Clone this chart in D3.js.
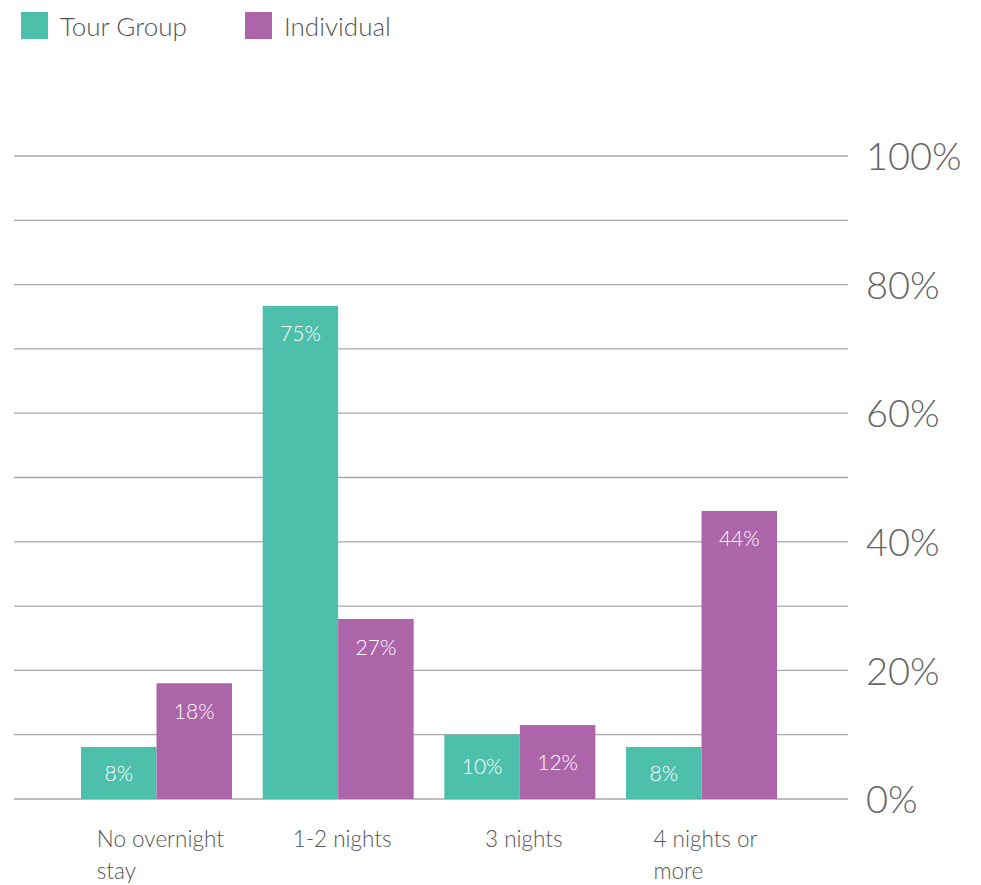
<!DOCTYPE html>
<html>
<head>
<meta charset="utf-8">
<script src="https://cdn.jsdelivr.net/npm/d3@7"></script>
<style>
  html, body { margin: 0; padding: 0; background: #fff; }
  svg { display: block; font-family: Lato, "Open Sans", sans-serif; }
</style>
</head>
<body>
<svg id="chart" width="981" height="885"></svg>
<script>
const categories = [["No overnight", "stay"], ["1-2 nights"], ["3 nights"], ["4 nights or", "more"]];
const seriesNames = ["Tour Group", "Individual"];
const tourGroup = [8.1, 76.7, 10, 8.1];
const individual = [18, 28, 11.5, 44.8];
const tourLabels = ["8%", "75%", "10%", "8%"];
const indivLabels = ["18%", "27%", "12%", "44%"];
const yTicks = [0, 10, 20, 30, 40, 50, 60, 70, 80, 90, 100];
const yTickLabels = ["0%", "", "20%", "", "40%", "", "60%", "", "80%", "", "100%"];
const colors = ["#4dc0ac", "#ad65a9"];

const svg = d3.select("#chart");

const y = d3.scaleLinear().domain([0, 100]).range([799, 156]);
const x0 = d3.scaleBand().domain(d3.range(categories.length)).range([0, 696]).paddingInner(0.169).paddingOuter(0);
const x1 = d3.scaleBand().domain([0, 1]).range([0, x0.bandwidth()]);
const plotLeft = 81;

// gridlines
const grid = svg.append("g");
grid.selectAll("line").data(yTicks).join("line")
  .attr("x1", 14).attr("x2", 848)
  .attr("y1", d => y(d)).attr("y2", d => y(d))
  .attr("stroke", "#a9a9a9").attr("stroke-width", 1.3);

// right axis labels
const yAxis = d3.axisRight(y).tickValues(yTicks).tickSize(0).tickPadding(0)
  .tickFormat((d, i) => yTickLabels[i]);
const ya = svg.append("g").attr("transform", "translate(866,0)").call(yAxis);
ya.select(".domain").remove();
ya.selectAll("text")
  .attr("font-family", "Lato, sans-serif").attr("font-weight", 300)
  .attr("font-size", 38).attr("fill", "#666").attr("dy", "0.36em");

// bars
const data = categories.map((c, i) => ({ i, vals: [tourGroup[i], individual[i]], labels: [tourLabels[i], indivLabels[i]] }));
const g = svg.append("g").attr("transform", `translate(${plotLeft},0)`);
const groups = g.selectAll("g.grp").data(data).join("g").attr("class", "grp")
  .attr("transform", d => `translate(${x0(d.i)},0)`);
groups.selectAll("rect").data(d => d.vals.map((v, k) => ({ v, k }))).join("rect")
  .attr("x", d => x1(d.k)).attr("width", x1.bandwidth())
  .attr("y", d => y(d.v)).attr("height", d => y(0) - y(d.v))
  .attr("fill", d => colors[d.k]);
groups.selectAll("text.val").data(d => d.vals.map((v, k) => ({ v, k, t: d.labels[k] }))).join("text")
  .attr("class", "val")
  .attr("x", d => x1(d.k) + x1.bandwidth() / 2)
  .attr("y", d => {
    const h = y(0) - y(d.v);
    return h < 90 ? y(d.v) + h / 2 : y(d.v) + 28;
  })
  .attr("dy", "0.36em")
  .attr("text-anchor", "middle")
  .attr("font-size", 21).attr("font-weight", 300).attr("fill", "#fff")
  .text(d => d.t);

// category labels
categories.forEach((lines, i) => {
  const cx = plotLeft + x0(i) + x0.bandwidth() / 2 + 4;
  const t = svg.append("text").attr("font-size", 22.5).attr("font-weight", 300).attr("fill", "#555");
  lines.forEach((ln, j) => {
    t.append("tspan").attr("x", 0).attr("y", 839 + j * 32).attr("dy", "0.36em").text(ln);
  });
  const w = t.node().getBBox().width;
  t.selectAll("tspan").attr("x", cx - w / 2);
});

// legend
const legendX = [21, 245];
seriesNames.forEach((name, k) => {
  svg.append("rect").attr("x", legendX[k]).attr("y", 12).attr("width", 27).attr("height", 27).attr("fill", colors[k]);
  svg.append("text").attr("x", legendX[k] + 39).attr("y", 27).attr("dy", "0.36em")
    .attr("font-size", 26).attr("font-weight", 300).attr("fill", "#555").text(name);
});
</script>
</body>
</html>
